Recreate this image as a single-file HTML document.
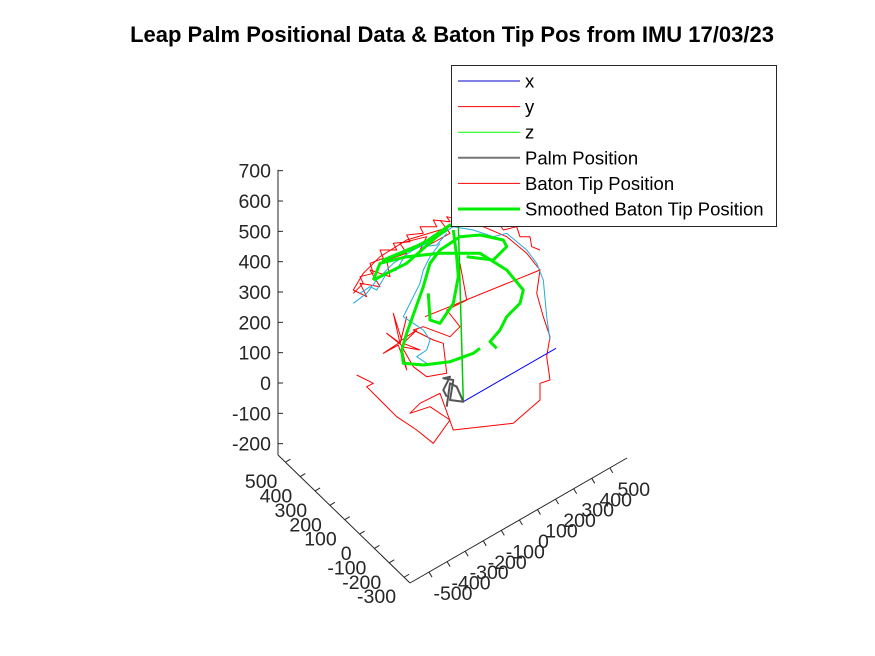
<!DOCTYPE html>
<html><head><meta charset="utf-8"><style>
body{margin:0;background:#fff;}
svg{display:block;font-family:"Liberation Sans",Arial,sans-serif;}
</style></head><body>
<svg id="c" width="875" height="656" viewBox="0 0 875 656">
<text x="452" y="42" text-anchor="middle" font-size="22" font-weight="bold" fill="#000">Leap Palm Positional Data &amp; Baton Tip Pos from IMU 17/03/23</text>
</svg>
<script>
const zTicks=[700,600,500,400,300,200,100,0,-100,-200];
const yTicks=[500,400,300,200,100,0,-100,-200,-300];
const xTicks=[-500,-400,-300,-200,-100,0,100,200,300,400,500];
const greenA=[[470,305],[450,325],[480,360],[500,400],[540,440],[550,480],[500,540],[420,590],[300,590],[200,580],[120,560],[100,510]];
const greenB=[[420,305],[400,290],[330,265],[250,255],[190,260],[185,300],[200,350],[225,420],[250,490],[270,560],[300,600],[360,640],[420,645],[490,630],[500,610],[460,570],[380,580]];
const greenC=[[265,470],[270,390],[300,380],[340,440],[355,520],[350,580],[340,660]];
const greenD=[[100,510],[200,560],[330,675],[250,620],[130,570],[210,600],[320,660]];
const redPath=[[50,225],[100,200],[80,190],[170,100],[230,60],[280,20],[330,90],[270,130],[210,110],[240,140],[300,170],[340,60],[520,80],[600,150],[600,200],[630,210],[620,280],[630,340],[610,400],[590,470],[600,540],[560,590],[500,640],[430,670],[360,680],[300,660],[200,630],[120,580],[70,530],[40,480],[80,460],[60,500],[120,490],[90,540],[150,520],[140,570],[200,590],[180,620],[260,640],[240,600],[330,650],[300,690]];
const redArc=[[40,470],[70,500],[60,520],[100,530],[90,560],[130,575],[120,600],[170,600],[160,620],[210,625],[200,645],[250,650],[240,670],[290,670],[280,690],[330,685],[320,700],[360,690],[400,700],[430,680],[470,690],[490,660],[530,670],[540,640],[570,640],[575,610],[600,600]];
const redStar=[[180,320],[160,410],[185,330],[230,360],[190,320],[240,300],[185,310],[200,240],[175,315],[130,290],[178,322],[140,350],[180,318],[200,400],[180,320],[220,250],[260,220],[320,230],[310,320],[280,330],[220,360],[250,370],[330,340],[360,370],[320,420],[380,450],[360,560]];
const cyanA=[[40,440],[80,470],[110,510],[160,560],[220,600],[280,630],[340,670],[400,660],[460,640],[500,650],[560,600],[590,560],[610,510],[620,400],[630,330]];
const cyanB=[[190,400],[200,420],[220,460],[240,500],[250,540],[270,580],[300,620]];
const cyanC=[[190,400],[220,380],[250,360],[270,330],[260,300],[230,280],[260,260]];
const cyanD=[[60,470],[90,490],[110,480],[140,530],[170,540],[190,575],[230,580],[250,610],[290,615],[320,650]];
const palm=[[320,160],[310,180],[320,200],[330,220],[310,215],[340,210],[335,180],[330,150],[370,145],[350,190],[330,200],[320,130]];
const xLine=[[370,145],[648,305]];
const yLine=[[255,400],[600,540]];
const zLine=[[370,145],[355,680]];
const legendLabels=["x","y","z","Palm Position","Baton Tip Position","Smoothed Baton Tip Position"];

const svg=document.getElementById('c');
const NS='http://www.w3.org/2000/svg';
function sx(u){return 340+u/3;}
function sy(v){return 450-v/3;}
function mk(tag,attrs){const e=document.createElementNS(NS,tag);for(const k in attrs)e.setAttribute(k,attrs[k]);svg.appendChild(e);return e;}
function poly(pts,color,w,name){const e=mk('polyline',{points:pts.map(p=>sx(p[0]).toFixed(1)+','+sy(p[1]).toFixed(1)).join(' '),fill:'none',stroke:color,'stroke-width':w,'stroke-linejoin':'round'});

return e;}

function zY(z){return 383-z*0.3033;}
let a=mk('line',{x1:278,y1:zY(700)-1,x2:278,y2:455,stroke:'#262626','stroke-width':1});


zTicks.forEach(t=>{const l=mk('line',{x1:278,y1:zY(t),x2:283,y2:zY(t),stroke:'#262626'});


const tx=mk('text',{x:271,y:zY(t)+7,'text-anchor':'end','font-size':19.5,fill:'#262626'});tx.textContent=t;

});
function yP(y){const f=(y+340)/890;return [410-f*132,583-f*128];}
a=mk('line',{x1:410,y1:583,x2:278,y2:455,stroke:'#262626'});


yTicks.forEach(t=>{const p=yP(t);const l=mk('line',{x1:p[0],y1:p[1],x2:p[0]+5,y2:p[1]-3,stroke:'#262626'});


const tx=mk('text',{x:p[0]-8,y:p[1]+26,'text-anchor':'end','font-size':19.5,fill:'#262626'});tx.textContent=t;

});
function xP(x){const f=(x+605)/1200;return [410+f*217,583-f*125];}
a=mk('line',{x1:410,y1:583,x2:627,y2:458,stroke:'#262626'});


xTicks.forEach(t=>{const p=xP(t);const l=mk('line',{x1:p[0],y1:p[1],x2:p[0]+3,y2:p[1]+5,stroke:'#262626'});


const tx=mk('text',{x:p[0]+24,y:p[1]+28,'text-anchor':'middle','font-size':19.5,fill:'#262626'});tx.textContent=t;

});

poly(redPath,'#ff0000',1,'baton-tip-path');
poly(redArc,'#ff0000',1,'baton-tip-path-arc');
poly(redStar,'#ff0000',1,'baton-tip-path-inner');
poly(cyanA,'#22aadd',1,'cyan-path-outer');
poly(cyanB,'#22aadd',1,'cyan-path-inner');
poly(cyanC,'#22aadd',1,'cyan-path-mid');
poly(cyanD,'#22aadd',1,'cyan-path-arc');
poly(yLine,'#ff0000',1,'y-line');
poly(xLine,'#0000ff',1,'x-line');
poly(zLine,'#00cc00',1.5,'z-line');
poly(palm,'#555555',2,'palm-position');
poly(greenA,'#00ee00',3,'smoothed-baton-a');
poly(greenB,'#00ee00',3,'smoothed-baton-b');
poly(greenC,'#00ee00',3,'smoothed-baton-c');
poly(greenD,'#00ee00',3,'smoothed-baton-d');

const lg=mk('rect',{x:451.5,y:65.5,width:325,height:161,fill:'#fff',stroke:'#262626'});


const lcol=['#0000cc','#ff0000','#00ff00','#777777','#ff0000','#00ee00'];
const lw=[1,1,1,2,1,3];
legendLabels.forEach((s,i)=>{const y=81+i*25.6;
const l=mk('line',{x1:458,y1:y,x2:520,y2:y,stroke:lcol[i],'stroke-width':lw[i]});


const t=mk('text',{x:525,y:y+6.5,'font-size':18.5,fill:'#000'});t.textContent=s;

});
</script>
</body></html>
